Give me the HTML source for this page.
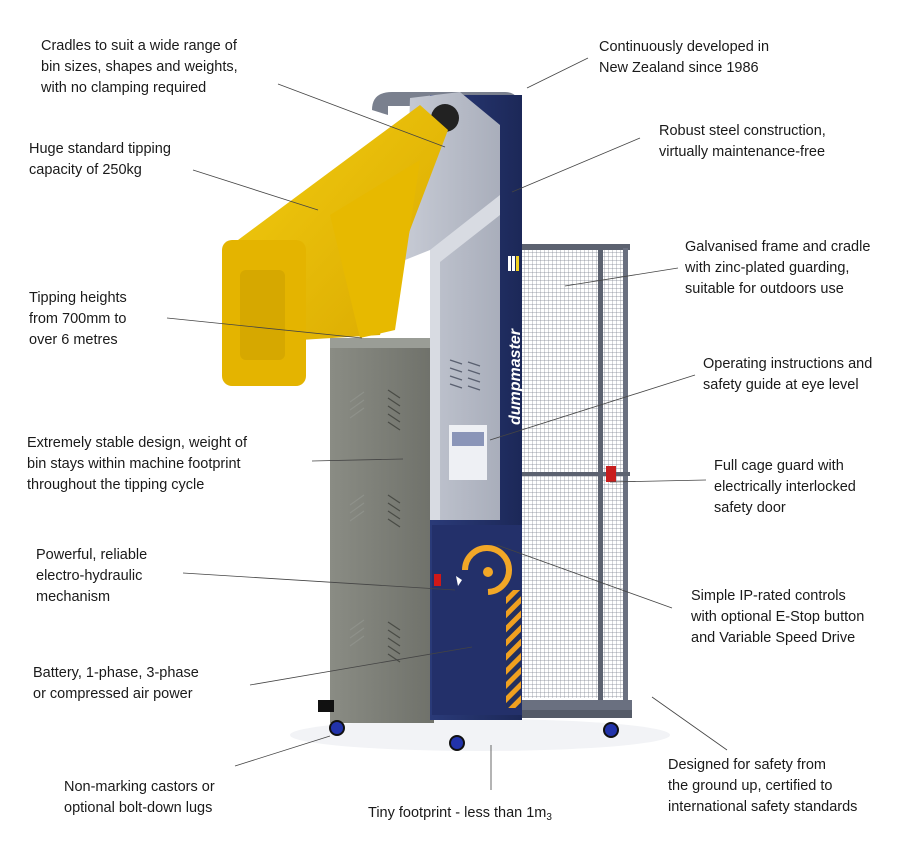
<!DOCTYPE html>
<html><head><meta charset="utf-8"><style>
body{margin:0;background:#fff;width:912px;height:842px;overflow:hidden}
svg{display:block}
text{font-family:"Liberation Sans",Arial,sans-serif;font-size:14.5px;fill:#1a1a1a}
</style></head><body>
<svg width="912" height="842" viewBox="0 0 912 842">
<defs>
<linearGradient id="yel" x1="0" y1="0" x2="1" y2="1"><stop offset="0" stop-color="#f2cc10"/><stop offset="1" stop-color="#d9a800"/></linearGradient>
<linearGradient id="blue" x1="0" y1="0" x2="1" y2="0"><stop offset="0" stop-color="#2a3a78"/><stop offset="1" stop-color="#1c2858"/></linearGradient>
<linearGradient id="grey" x1="0" y1="0" x2="1" y2="0"><stop offset="0" stop-color="#8a8c84"/><stop offset="1" stop-color="#6f716a"/></linearGradient>
<linearGradient id="plate" x1="0" y1="0" x2="1" y2="0"><stop offset="0" stop-color="#c6cad4"/><stop offset="1" stop-color="#a9aebb"/></linearGradient>
<pattern id="mesh" width="4" height="4" patternUnits="userSpaceOnUse"><path d="M0 0H4M0 0V4" stroke="#7d8390" stroke-width="0.7" fill="none"/></pattern>
<pattern id="haz" width="10" height="10" patternUnits="userSpaceOnUse" patternTransform="rotate(45)"><rect width="10" height="10" fill="#23305f"/><rect width="5" height="10" fill="#f0a020"/></pattern>
</defs>
<ellipse cx="480" cy="735" rx="190" ry="16" fill="#f2f3f6"/>
<!-- cage -->
<rect x="520" y="248" width="108" height="450" fill="url(#mesh)"/>
<rect x="520" y="244" width="110" height="6" fill="#5c6270"/>
<rect x="598" y="248" width="5" height="452" fill="#5c6270"/>
<rect x="623" y="248" width="5" height="452" fill="#6a7080"/>
<rect x="520" y="472" width="110" height="4" fill="#5c6270"/>
<rect x="606" y="466" width="10" height="16" fill="#c81e1e"/>
<rect x="320" y="700" width="312" height="10" fill="#6a7080"/>
<rect x="432" y="710" width="200" height="8" fill="#555b68"/>
<path d="M372 110 Q372 92 392 92 L505 92 Q520 92 520 110 L520 130 L505 130 L505 106 L388 106 L388 115 Z" fill="#7a808e"/>
<rect x="330" y="345" width="104" height="378" fill="url(#grey)"/>
<rect x="330" y="338" width="104" height="10" fill="#9a9d96"/>
<g stroke="#4a4c46" stroke-width="1.2">
<path d="M388 390l12 8M388 398l12 8M388 406l12 8M388 414l12 8M388 422l12 8M388 495l12 8M388 503l12 8M388 511l12 8M388 519l12 8M388 622l12 8M388 630l12 8M388 638l12 8M388 646l12 8M388 654l12 8"/>
<path d="M350 402l14-10M350 410l14-10M350 418l14-10M350 505l14-10M350 513l14-10M350 521l14-10M350 630l14-10M350 638l14-10M350 646l14-10" stroke="#8e918a"/>
</g>
<rect x="430" y="95" width="92" height="625" fill="url(#blue)"/>
<path d="M410 98 L460 92 L500 125 L500 520 L430 520 L430 250 L405 260 Z" fill="url(#plate)"/>
<path d="M430 250 L500 195 L500 215 L440 262 L440 520 L430 520 Z" fill="#d8dbe2"/>
<circle cx="445" cy="118" r="14" fill="#222"/>
<rect x="449" y="425" width="38" height="55" fill="#eef0f4"/>
<rect x="452" y="432" width="32" height="14" fill="#8a95b8"/>
<g stroke="#5a6070" stroke-width="1.4"><path d="M450 360l12 4M450 368l12 4M450 376l12 4M450 384l12 4M468 362l12 4M468 370l12 4M468 378l12 4M468 386l12 4"/></g>
<rect x="432" y="525" width="90" height="190" fill="#23306a"/>
<path d="M465 570 A22 22 0 1 1 488 592" fill="none" stroke="#f2a727" stroke-width="6"/>
<circle cx="488" cy="572" r="5" fill="#f2a727"/>
<path d="M462 580 l-6 -4 l2 10 z" fill="#fff"/>
<rect x="434" y="574" width="7" height="12" fill="#d01818"/>
<rect x="506" y="590" width="15" height="118" fill="url(#haz)"/>
<g fill="#fff"><rect x="508" y="256" width="3" height="15"/><rect x="512" y="256" width="3" height="15"/><rect x="516" y="256" width="3" height="15" fill="#f0d020"/></g>
<text transform="translate(520 425) rotate(-90)" style="font-size:16px;fill:#fff;font-style:italic;font-weight:bold">dumpmaster</text>
<path d="M238 240 L420 105 L448 130 L410 230 L380 335 L300 340 L305 255 Z" fill="url(#yel)"/>
<path d="M330 215 L420 160 L395 330 L360 338 Z" fill="#e7b900"/>
<rect x="222" y="240" width="84" height="146" rx="10" fill="#e4b400"/>
<rect x="240" y="270" width="45" height="90" rx="6" fill="#d6a800"/>
<g fill="#2233aa" stroke="#111" stroke-width="2"><circle cx="337" cy="728" r="7"/><circle cx="457" cy="743" r="7"/><circle cx="611" cy="730" r="7"/></g>
<rect x="318" y="700" width="16" height="12" fill="#111"/>
<g stroke="#444" stroke-width="0.8" fill="none">
<path d="M278 84L445 147"/><path d="M193 170L318 210"/><path d="M167 318L362 338"/>
<path d="M312 461L403 459"/><path d="M183 573L455 590"/><path d="M250 685L472 647"/>
<path d="M235 766L330 736"/><path d="M491 745V790"/><path d="M652 697L727 750"/>
<path d="M497 545L672 608"/><path d="M610 482L706 480"/><path d="M490 440L695 375"/>
<path d="M565 286L678 268"/><path d="M512 192L640 138"/><path d="M527 88L588 58"/>
</g>
<text x="41" y="50">Cradles to suit a wide range of</text><text x="41" y="71">bin sizes, shapes and weights,</text><text x="41" y="92">with no clamping required</text>
<text x="29" y="153">Huge standard tipping</text><text x="29" y="174">capacity of 250kg</text>
<text x="29" y="302">Tipping heights</text><text x="29" y="323">from 700mm to</text><text x="29" y="344">over 6 metres</text>
<text x="27" y="447">Extremely stable design, weight of</text><text x="27" y="468">bin stays within machine footprint</text><text x="27" y="489">throughout the tipping cycle</text>
<text x="36" y="559">Powerful, reliable</text><text x="36" y="580">electro-hydraulic</text><text x="36" y="601">mechanism</text>
<text x="33" y="677">Battery, 1-phase, 3-phase</text><text x="33" y="698">or compressed air power</text>
<text x="64" y="791">Non-marking castors or</text><text x="64" y="812">optional bolt-down lugs</text>
<text x="368" y="817">Tiny footprint - less than 1m<tspan style="font-size:10px" dy="3">3</tspan></text>
<text x="668" y="769">Designed for safety from</text><text x="668" y="790">the ground up, certified to</text><text x="668" y="811">international safety standards</text>
<text x="691" y="600">Simple IP-rated controls</text><text x="691" y="621">with optional E-Stop button</text><text x="691" y="642">and Variable Speed Drive</text>
<text x="714" y="470">Full cage guard with</text><text x="714" y="491">electrically interlocked</text><text x="714" y="512">safety door</text>
<text x="703" y="368">Operating instructions and</text><text x="703" y="389">safety guide at eye level</text>
<text x="685" y="251">Galvanised frame and cradle</text><text x="685" y="272">with zinc-plated guarding,</text><text x="685" y="293">suitable for outdoors use</text>
<text x="659" y="135">Robust steel construction,</text><text x="659" y="156">virtually maintenance-free</text>
<text x="599" y="51">Continuously developed in</text><text x="599" y="72">New Zealand since 1986</text>
</svg>
</body></html>
